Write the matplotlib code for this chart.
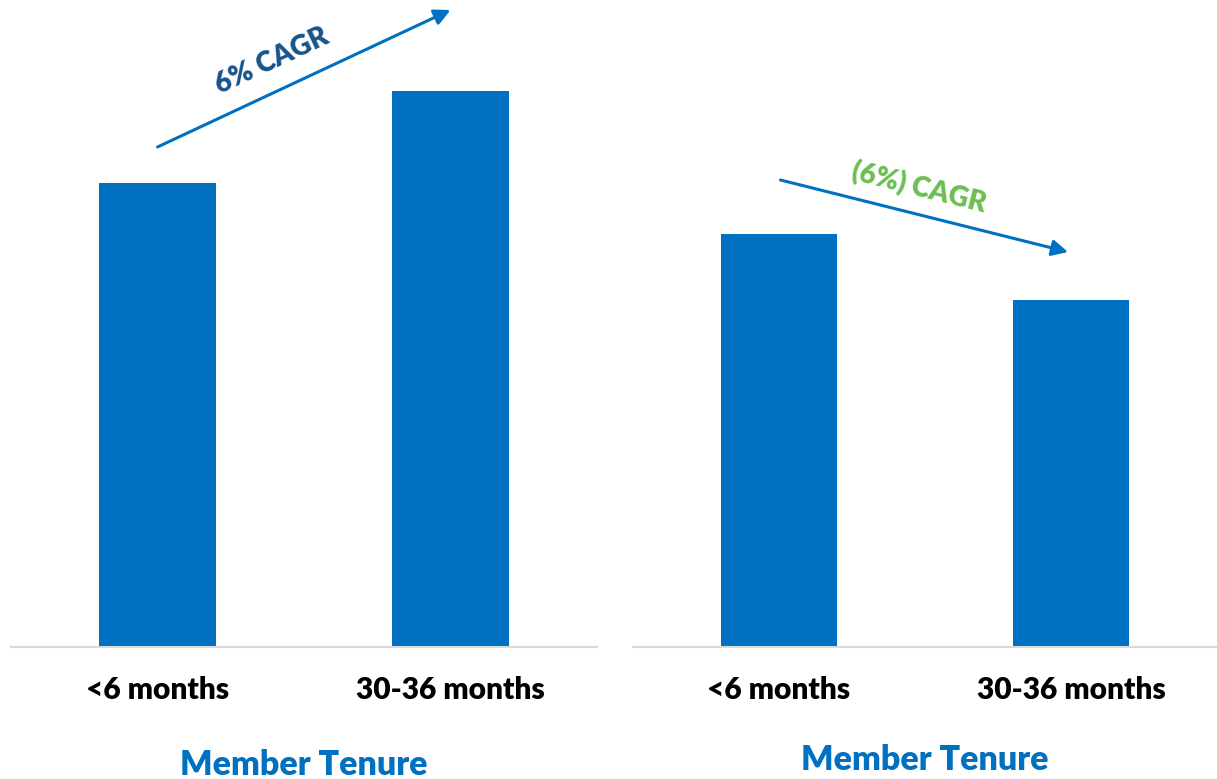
import matplotlib
matplotlib.use("Agg")
import matplotlib.pyplot as plt

# Member tenure comparison, two panels
categories = ["<6 months", "30-36 months"]
left_values = [46.4, 55.6]
right_values = [41.3, 34.7]
left_note = "6% CAGR"
right_note = "(6%) CAGR"
axis_title = "Member Tenure"

BAR = "#0070C0"
BASE = "#D9D9D9"
plt.rcParams["font.family"] = ["Lato", "DejaVu Sans"]

W, H = 1217, 779
fig = plt.figure(figsize=(W / 100, H / 100), dpi=100)

base_y = 647
top_y = 47


def make_axes(x0, x1):
    ax = fig.add_axes([x0 / W, (H - base_y) / H, (x1 - x0) / W, (base_y - top_y) / H])
    ax.set_xlim(-0.5, 1.5)
    ax.set_ylim(0, 60)
    for s in ("top", "right", "left"):
        ax.spines[s].set_visible(False)
    ax.spines["bottom"].set_color(BASE)
    ax.spines["bottom"].set_linewidth(1.5)
    ax.set_yticks([])
    ax.tick_params(axis="x", length=0, pad=21, labelsize=21.5)
    ax.patch.set_alpha(0)
    return ax


def draw_panel(ax, values, title_pad):
    x = range(len(categories))
    ax.bar(x, values, width=0.4, color=BAR, zorder=2)
    ax.set_xticks(list(x))
    ax.set_xticklabels(categories, fontweight="heavy", color="black")
    ax.set_xlabel(axis_title, fontsize=24.5, fontweight="heavy", color=BAR, labelpad=title_pad)


ax1 = make_axes(11, 597)
draw_panel(ax1, left_values, 32)
ax2 = make_axes(633, 1217)
draw_panel(ax2, right_values, 29)

arrow = dict(arrowstyle="-|>", lw=2.2, color=BAR, mutation_scale=24, shrinkA=0, shrinkB=0)

# Upward trend arrow above the left bars
ax1.annotate("", xy=(1.0, left_values[1] + 8.1), xytext=(0.0, left_values[0] + 3.6),
             arrowprops=arrow, annotation_clip=False)
ax1.text(0.39, 58.6, left_note, rotation=25, ha="center", va="center",
         fontsize=20, fontweight="heavy", color="#17548A", rotation_mode="anchor")

# Downward trend arrow above the right bars
ax2.annotate("", xy=(0.99, right_values[1] + 4.8), xytext=(0.005, right_values[0] + 5.4),
             arrowprops=arrow, annotation_clip=False)
ax2.text(0.48, 45.9, right_note, rotation=-14, ha="center", va="center",
         fontsize=20, fontweight="heavy", color="#6CBF52", rotation_mode="anchor")

fig.savefig("out.png", dpi=100, facecolor="white")
